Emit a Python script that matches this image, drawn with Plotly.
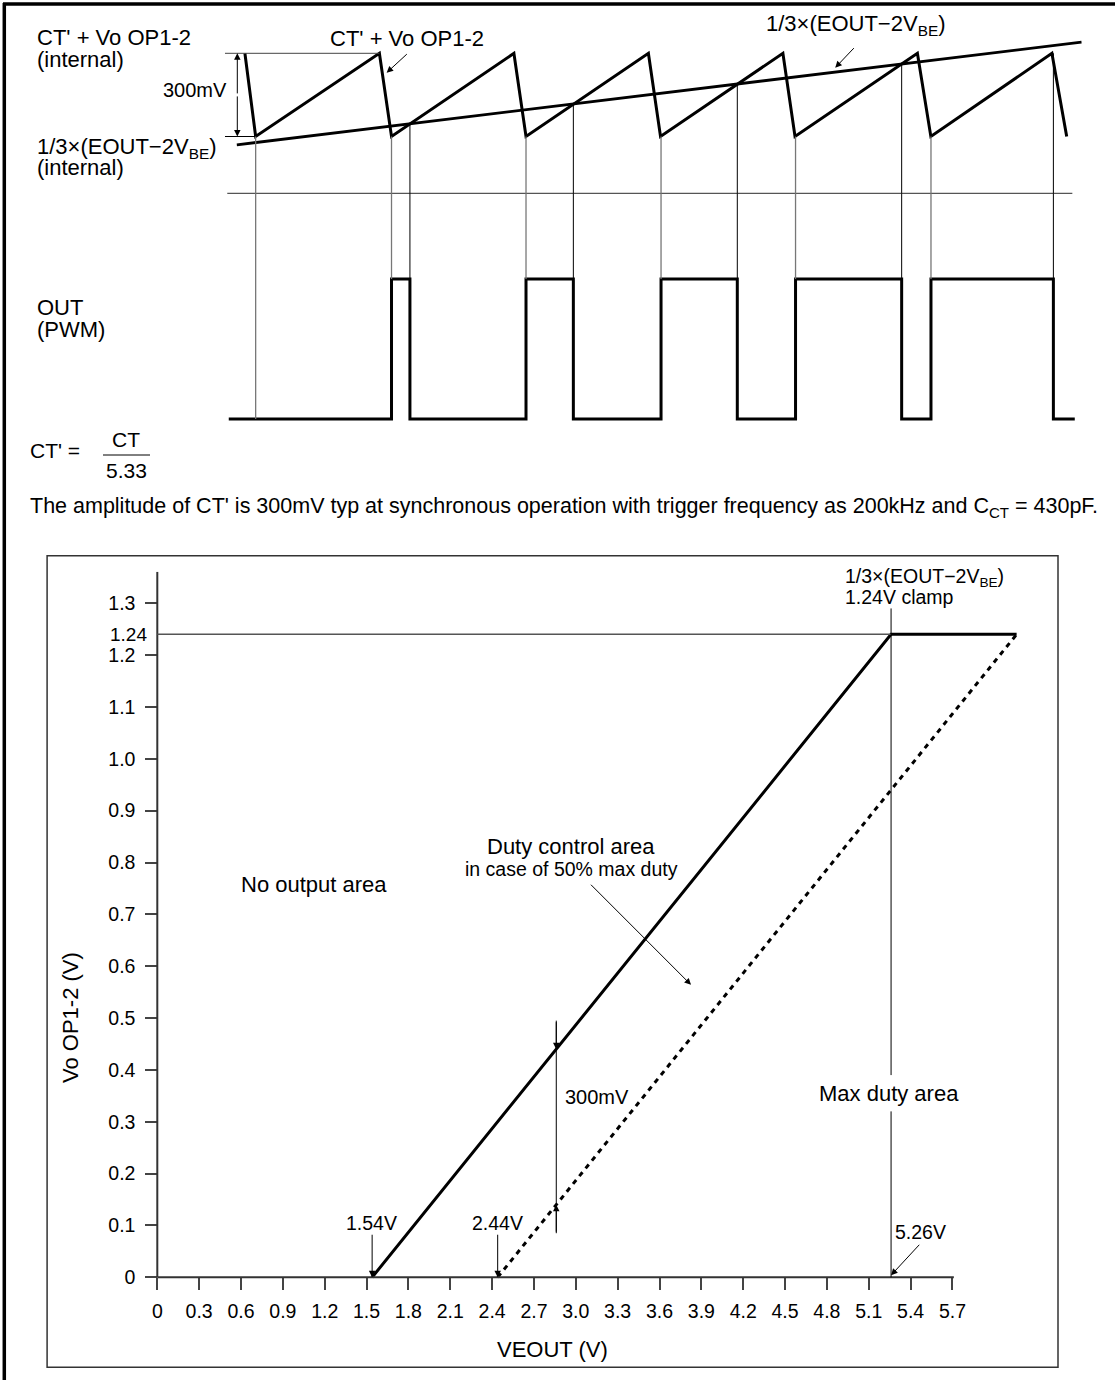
import plotly.graph_objects as go

W, H = 1115, 1380
FONT = "Liberation Sans, Arial, Helvetica, sans-serif"

# ---------------- timing diagram data (time in oscillator periods, level in V) ----------------
saw_t = [0.0, 0.08, 1.0, 1.09, 2.0, 2.09, 3.0, 3.09, 4.0, 4.09, 5.0, 5.10, 6.0, 6.11]
saw_v = [0.30, 0.0, 0.30, 0.0, 0.30, 0.0, 0.30, 0.0, 0.30, 0.0, 0.30, 0.0, 0.30, 0.0]
thr_t = [-0.06, 6.22]          # 1/3x(EOUT-2VBE) ramp
thr_v = [-0.03, 0.34]
pwm_t = [-0.12, 1.09, 1.227, 2.09, 2.442, 3.094, 3.661, 4.094, 4.883, 5.101, 6.011, 6.17]
pwm_s = [0, 1, 0, 1, 0, 1, 0, 1, 0, 1, 0, 0]
trough_t = [0.08, 1.09, 2.09, 3.094, 4.094, 5.101]
trough_pwm = [0, 1, 1, 1, 1, 1]
cross_t = [1.227, 2.442, 3.661, 4.883, 6.011]
cross_v = [0.045, 0.115, 0.185, 0.26, 0.30]
amp_v = 0.30
ref_t_start = -0.148
sep_t = [-0.131, 6.152]

# ---------------- transfer chart data ----------------
x_ticklabels = ["0", "0.3", "0.6", "0.9", "1.2", "1.5", "1.8", "2.1", "2.4", "2.7",
                "3.0", "3.3", "3.6", "3.9", "4.2", "4.5", "4.8", "5.1", "5.4", "5.7"]
y_ticklabels = ["0", "0.1", "0.2", "0.3", "0.4", "0.5", "0.6", "0.7", "0.8", "0.9",
                "1.0", "1.1", "1.2", "1.3"]
solid_x = [1.54, 5.26, 6.16]
solid_y = [0.0, 1.24, 1.24]
dotted_x = [2.44, 6.16]
dotted_y = [0.0, 1.24]
clamp_v = 1.24
start_v = 1.54
start50_v = 2.44
maxduty_v = 5.26
mark_x = 2.86
mark_solid = 0.44
mark_dotted = 0.14

# ---------------- pixel calibration of the layout ----------------
def px(xp):
    return xp / W

def py(yp):
    return 1 - yp / H

# timing axes
T0, TPP = 244.9, 134.5      # px of t=0, px per period
V0, VPP = 136.5, 277.3      # px of 0 V, px per V
P0, PPP = 419.0, 140.0      # px of PWM low, px per level
SEP_PX = 193.3
x2_dom = (200, 1100)
y2_dom = (20, 205)
y3_dom = (180, 440)
x2_range = [(x2_dom[0] - T0) / TPP, (x2_dom[1] - T0) / TPP]
y2_range = [(V0 - y2_dom[1]) / VPP, (V0 - y2_dom[0]) / VPP]
y3_range = [(P0 - y3_dom[1]) / PPP, (P0 - y3_dom[0]) / PPP]
sep_v2 = (V0 - SEP_PX) / VPP
sep_v3 = (P0 - SEP_PX) / PPP

# main chart axes
X0, XPP = 157.3, 139.5
Y0, YPP = 1277.3, 518.5
x_dom = (147, 1050.1)
y_dom = (1290, 571.7)
x_range = [(x_dom[0] - X0) / XPP, (x_dom[1] - X0) / XPP]
y_range = [(Y0 - y_dom[0]) / YPP, (Y0 - y_dom[1]) / YPP]
x_axis_end = 5.71

fig = go.Figure()

# sawtooth, threshold ramp, PWM
fig.add_trace(go.Scatter(x=saw_t, y=saw_v, xaxis="x2", yaxis="y2", mode="lines",
                         line=dict(color="black", width=3), hoverinfo="skip"))
fig.add_trace(go.Scatter(x=thr_t, y=thr_v, xaxis="x2", yaxis="y2", mode="lines",
                         line=dict(color="black", width=2.8), hoverinfo="skip"))
fig.add_trace(go.Scatter(x=pwm_t, y=pwm_s, xaxis="x2", yaxis="y3", mode="lines",
                         line=dict(color="black", width=3, shape="hv"), hoverinfo="skip"))

# transfer chart lines
fig.add_trace(go.Scatter(x=solid_x, y=solid_y, mode="lines",
                         line=dict(color="black", width=3), hoverinfo="skip"))
fig.add_trace(go.Scatter(x=dotted_x, y=dotted_y, mode="lines",
                         line=dict(color="black", width=3, dash="5px,5px"), hoverinfo="skip"))

shapes = []
# outer frame (top and left edges)
shapes.append(dict(type="line", xref="paper", yref="paper", x0=px(3), x1=px(W), y0=py(4), y1=py(4),
                   line=dict(color="black", width=3.5)))
shapes.append(dict(type="line", xref="paper", yref="paper", x0=px(4.3), x1=px(4.3), y0=py(3), y1=py(H),
                   line=dict(color="black", width=3.5)))
# inner chart frame
shapes.append(dict(type="rect", xref="paper", yref="paper", x0=px(47.1), x1=px(1058), y0=py(1367.3), y1=py(555.7),
                   line=dict(color="#333", width=1.5)))

# timing reference lines
shapes.append(dict(type="line", xref="x2", yref="y2", x0=ref_t_start, x1=saw_t[2], y0=amp_v, y1=amp_v,
                   line=dict(color="#444", width=1)))
shapes.append(dict(type="line", xref="x2", yref="y2", x0=ref_t_start, x1=saw_t[1], y0=0, y1=0,
                   line=dict(color="black", width=1)))
shapes.append(dict(type="line", xref="x2", yref="y2", x0=sep_t[0], x1=sep_t[1], y0=sep_v2, y1=sep_v2,
                   line=dict(color="#555", width=1.3)))
# vertical event lines
for t, lvl in zip(trough_t, trough_pwm):
    shapes.append(dict(type="line", xref="x2", yref="y2", x0=t, x1=t, y0=0, y1=sep_v2,
                       line=dict(color="#777", width=1.3)))
    shapes.append(dict(type="line", xref="x2", yref="y3", x0=t, x1=t, y0=sep_v3, y1=lvl,
                       line=dict(color="#777", width=1.3)))
for t, v in zip(cross_t, cross_v):
    shapes.append(dict(type="line", xref="x2", yref="y2", x0=t, x1=t, y0=v, y1=sep_v2,
                       line=dict(color="black", width=1)))
    shapes.append(dict(type="line", xref="x2", yref="y3", x0=t, x1=t, y0=sep_v3, y1=1,
                       line=dict(color="black", width=1)))

# chart axis lines
shapes.append(dict(type="line", xref="x", yref="y", x0=0, x1=x_axis_end, y0=0, y1=0,
                   line=dict(color="#333", width=2)))
shapes.append(dict(type="line", xref="x", yref="y", x0=0, x1=0, y0=0, y1=y_range[1],
                   line=dict(color="#333", width=2)))
# clamp reference
shapes.append(dict(type="line", xref="x", yref="y", x0=0, x1=maxduty_v, y0=clamp_v, y1=clamp_v,
                   line=dict(color="#555", width=1.5)))
# max duty vertical (broken around the label)
shapes.append(dict(type="line", xref="x", yref="y", x0=maxduty_v, x1=maxduty_v, y0=0, y1=0.32,
                   line=dict(color="black", width=1)))
shapes.append(dict(type="line", xref="x", yref="y", x0=maxduty_v, x1=maxduty_v, y0=0.39, y1=1.29,
                   line=dict(color="black", width=1)))
# 300mV marker line
shapes.append(dict(type="line", xref="x", yref="y", x0=mark_x, x1=mark_x, y0=0.085, y1=0.495,
                   line=dict(color="black", width=1)))
# fraction bar
shapes.append(dict(type="line", xref="paper", yref="paper", x0=px(103), x1=px(150), y0=py(455), y1=py(455),
                   line=dict(color="black", width=1)))

ann = []

def text(t, x, y, size=22, xanchor="left", xref="paper", yref="paper", angle=0):
    ann.append(dict(text=t, x=x, y=y, xref=xref, yref=yref, xanchor=xanchor, yanchor="middle",
                    showarrow=False, textangle=angle, font=dict(family=FONT, size=size, color="black")))

def arrow(x, y, ax, ay, xr="x", yr="y", width=1):
    ann.append(dict(text="", x=x, y=y, ax=ax, ay=ay, xref=xr, yref=yr, axref=xr, ayref=yr,
                    showarrow=True, arrowhead=2, arrowsize=1.3, arrowwidth=width, arrowcolor="black"))

# timing labels
text("CT' + Vo OP1-2", px(34.6), py(38))
text("(internal)", px(34.6), py(59))
text("300mV", px(229), py(90), xanchor="right", size=20)
text("1/3×(EOUT−2V<sub>BE</sub>)", px(34.6), py(148))
text("(internal)", px(34.6), py(168))
text("CT' + Vo OP1-2", px(407), py(39), xanchor="center")
text("1/3×(EOUT−2V<sub>BE</sub>)", px(764), py(25))
text("OUT", px(34.6), py(307))
text("(PWM)", px(34.6), py(330))
arrow(ref_t_start + 0.0915, amp_v, ref_t_start + 0.0915, amp_v / 2, "x2", "y2")
arrow(ref_t_start + 0.0915, 0, ref_t_start + 0.0915, amp_v / 2, "x2", "y2")
arrow(1.054, 0.230, 1.215, 0.302, "x2", "y2")
arrow(4.389, 0.248, 4.538, 0.324, "x2", "y2")

# formula and note
text("CT' =", px(28.4), py(450), size=21)
text("CT", px(126), py(440), size=21, xanchor="center")
text("5.33", px(126), py(471), size=21, xanchor="center")
text("The amplitude of CT' is 300mV typ at synchronous operation with trigger frequency as 200kHz and C<sub>CT</sub> = 430pF.",
     px(28.4), py(507), size=21.5)

# chart labels
text("1.24", px(149), clamp_v, size=19, xanchor="right", yref="y")
text("1/3×(EOUT−2V<sub>BE</sub>)", 4.912, 1.349, size=19.5, xref="x", yref="y")
text("1.24V clamp", 4.912, 1.313, size=19.5, xref="x", yref="y")
text("No output area", 1.122, 0.757, size=22, xanchor="center", xref="x", yref="y")
text("Duty control area", 2.967, 0.830, size=22, xanchor="center", xref="x", yref="y")
text("in case of 50% max duty", 2.966, 0.787, size=19.5, xanchor="center", xref="x", yref="y")
text("Max duty area", 5.244, 0.355, size=22, xanchor="center", xref="x", yref="y")
text("300mV", 2.907, 0.347, size=20, xref="x", yref="y")
text("1.54V", 1.532, 0.105, size=19.5, xanchor="center", xref="x", yref="y")
text("2.44V", 2.442, 0.105, size=19.5, xanchor="center", xref="x", yref="y")
text("5.26V", 5.472, 0.088, size=19.5, xanchor="center", xref="x", yref="y")
text("Vo OP1-2 (V)", px(70.5), py(1017.5), size=22, xanchor="center", angle=-90)
text("VEOUT (V)", px(552), py(1349), size=22, xanchor="center")

arrow(start_v, 0, start_v, 0.085)
arrow(start50_v, 0, start50_v, 0.085)
arrow(maxduty_v, 0.004, 5.472, 0.0656)
arrow(3.826, 0.564, 3.098, 0.760)
arrow(mark_x, mark_solid, mark_x, 0.495)
arrow(mark_x, mark_dotted, mark_x, 0.085)

axis_font = dict(family=FONT, size=19.5, color="black")
fig.update_layout(
    width=W, height=H, margin=dict(l=0, r=0, t=0, b=0),
    paper_bgcolor="white", plot_bgcolor="rgba(0,0,0,0)",
    showlegend=False, shapes=shapes, annotations=ann,
    xaxis=dict(domain=[px(x_dom[0]), px(x_dom[1])], range=x_range, anchor="free", position=py(Y0),
               showgrid=False, zeroline=False, showline=False,
               tickmode="array", tickvals=[float(s) for s in x_ticklabels], ticktext=x_ticklabels,
               ticks="outside", ticklen=12, tickwidth=1.5, tickcolor="#444",
               tickfont=axis_font, ticklabelstandoff=4),
    yaxis=dict(domain=[py(y_dom[0]), py(y_dom[1])], range=y_range, anchor="free", position=px(X0),
               showgrid=False, zeroline=False, showline=False,
               tickmode="array", tickvals=[float(s) for s in y_ticklabels], ticktext=y_ticklabels,
               ticks="outside", ticklen=12, tickwidth=1.5, tickcolor="#444",
               tickfont=axis_font, ticklabelstandoff=6),
    xaxis2=dict(domain=[px(x2_dom[0]), px(x2_dom[1])], range=x2_range, anchor="y2", visible=False),
    yaxis2=dict(domain=[py(y2_dom[1]), py(y2_dom[0])], range=y2_range, anchor="x2", visible=False),
    yaxis3=dict(domain=[py(y3_dom[1]), py(y3_dom[0])], range=y3_range, anchor="x2", visible=False),
)

fig.write_html("out.html", config={"displayModeBar": False},
               post_script="document.body.style.margin='0';document.body.style.overflow='hidden';")
